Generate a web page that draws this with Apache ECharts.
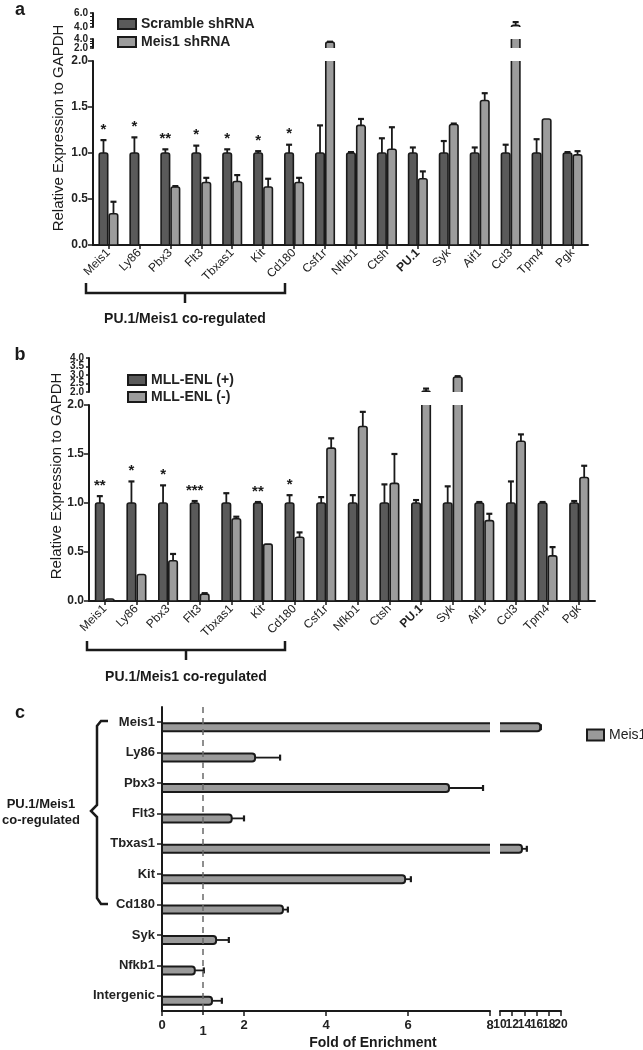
<!DOCTYPE html>
<html><head><meta charset="utf-8">
<script src="https://cdn.jsdelivr.net/npm/echarts@6/dist/echarts.min.js"></script>
<style>html,body{margin:0;padding:0;background:#fff}#c{width:643px;height:1050px}</style>
</head><body><div id="c"></div>
<script>
// ---------- data ----------
const genesAB = ['Meis1','Ly86','Pbx3','Flt3','Tbxas1','Kit','Cd180','Csf1r','Nfkb1','Ctsh','PU.1','Syk','Aif1','Ccl3','Tpm4','Pgk'];
// panel a
const aScramble    = [1,1,1,1,1,1,1,1,1,1,1,1,1,1,1,1];
const aScrambleErr = [0.14,0.17,0.04,0.08,0.04,0.02,0.09,0.30,0.01,0.16,0.06,0.13,0.06,0.09,0.15,0.01];
const aMeis1       = [0.34,0,0.63,0.68,0.69,0.63,0.68,3.3,1.30,1.04,0.72,1.31,1.57,4.25,1.37,0.98];
const aMeis1Err    = [0.13,0,0.01,0.05,0.07,0.09,0.05,0.1,0.07,0.24,0.08,0.01,0.08,0.45,0,0.04];
const aStars       = ['*','*','**','*','*','*','*','','','','','','','','',''];
// panel b
const bPlus        = [1,1,1,1,1,1,1,1,1,1,1,1,1,1,1,1];
const bPlusErr     = [0.07,0.22,0.18,0.02,0.10,0.01,0.08,0.06,0.08,0.19,0.03,0.17,0.01,0.22,0.01,0.02];
const bMinus       = [0.02,0.27,0.41,0.07,0.84,0.58,0.65,1.56,1.78,1.20,2.05,2.88,0.82,1.63,0.46,1.26];
const bMinusErr    = [0,0,0.07,0.01,0.02,0,0.05,0.10,0.15,0.30,0.15,0.05,0.07,0.07,0.09,0.12];
const bStars       = ['**','*','*','***','','**','*','','','','','','','','',''];
// panel c
const genesC = ['Meis1','Ly86','Pbx3','Flt3','Tbxas1','Kit','Cd180','Syk','Nfkb1','Intergenic'];
const cFold  = [16.6,2.27,7.0,1.70,13.6,5.93,2.95,1.32,0.80,1.22];
const cErr   = [0.1,0.61,0.83,0.30,0.8,0.14,0.12,0.31,0.22,0.24];
// tick labels of the broken-axis segments (split in two sets so none is dropped)
const aSeg1TicksA = [2], aSeg1TicksB = [4];
const bSegTicksA = [2, 3, 4], bSegTicksB = [2.5, 3.5];
const cSeg2TicksA = [10, 14, 18], cSeg2TicksB = [12, 16, 20];
const cExtraTick = [1];

// ---------- styles ----------
const FF = '"Liberation Sans", Arial, Helvetica, sans-serif';
const INK = '#1a1a1a';
const DARK = '#5a5a5a', LIGHT = '#9c9c9c', CFILL = '#9a9a9a';
const axLine = {show:true, lineStyle:{color:INK, width:2}};

function vRender(offset, fill, stars){
  return function(params, api){
    const cat = api.value(0), v = api.value(1), e = api.value(2);
    const base = api.coord([cat, 0]);
    const top = api.coord([cat, v]);
    const et = api.coord([cat, v + e]);
    const bw = 8.5;
    const cx = base[0] + offset;
    const ch = [];
    if (v > 0) ch.push({type:'rect', shape:{x:cx-bw/2, y:top[1], width:bw, height:base[1]-top[1], r:[2,2,0,0]},
      style:{fill:fill, stroke:INK, lineWidth:1.6}});
    if (e > 0.005) {
      ch.push({type:'line', shape:{x1:cx, y1:top[1], x2:cx, y2:et[1]}, style:{stroke:INK, lineWidth:1.8}});
      ch.push({type:'line', shape:{x1:cx-3, y1:et[1], x2:cx+3, y2:et[1]}, style:{stroke:INK, lineWidth:2.2}});
    }
    if (stars && stars[params.dataIndex]) {
      ch.push({type:'text', x:cx, y:et[1]-3, style:{text:stars[params.dataIndex], align:'center', verticalAlign:'bottom',
        font:'bold 15px ' + FF, fill:INK}});
    }
    return {type:'group', children:ch};
  };
}
function vSeries(name, grid, vals, errs, offset, fill, stars){
  return {type:'custom', name:name, xAxisIndex:grid, yAxisIndex:grid, clip:true,
    itemStyle:{color:fill}, encode:{x:0, y:1},
    data: vals.map((v,i)=>[i, v, errs[i]]), renderItem: vRender(offset, fill, stars)};
}
function hRender(params, api){
  const v = api.value(0), cat = api.value(1), e = api.value(2);
  const p0 = api.coord([0, cat]);
  const p1 = api.coord([v, cat]);
  const pe = api.coord([v + e, cat]);
  const y0 = p0[1];
  const ch = [{type:'rect', shape:{x:p0[0], y:y0+1, width:p1[0]-p0[0], height:8, r:[0,3,3,0]},
    style:{fill:CFILL, stroke:INK, lineWidth:2}}];
  if (e > 0.005) {
    ch.push({type:'line', shape:{x1:p1[0], y1:y0+5, x2:pe[0], y2:y0+5}, style:{stroke:INK, lineWidth:1.8}});
    ch.push({type:'line', shape:{x1:pe[0], y1:y0+2, x2:pe[0], y2:y0+8}, style:{stroke:INK, lineWidth:2.2}});
  }
  return {type:'group', children:ch};
}
function hSeries(grid, extra){
  return Object.assign({type:'custom', name:'Meis1', xAxisIndex:grid, yAxisIndex:grid, clip:true,
    itemStyle:{color:CFILL}, encode:{x:0, y:1},
    data: cFold.map((v,i)=>[v, i, cErr[i]]), renderItem: hRender}, extra || {});
}

const catLabel = {rotate:45, fontSize:12, color:'#222', margin:6, interval:0, fontFamily:FF,
  formatter: v => v === 'PU.1' ? '{b|' + v + '}' : v, rich:{b:{fontWeight:'bold', fontSize:12, fontFamily:FF, color:'#222'}}};
const mainYLabel = {formatter: v => v.toFixed(1), fontWeight:'bold', fontSize:12, color:'#222', margin:5, fontFamily:FF,
  showMinLabel:true, showMaxLabel:true};
function segYLabel(vals){
  const o = {formatter: v => v.toFixed(1), fontWeight:'bold', fontSize:10, color:'#222', margin:5, fontFamily:FF,
    showMinLabel:true, showMaxLabel:true};
  if (vals) o.customValues = vals;
  return o;
}

function catX(grid, shown){
  if (!shown) return {gridIndex:grid, type:'category', data:genesAB, show:false};
  return {gridIndex:grid, type:'category', data:genesAB, axisLine:axLine,
    axisTick:{show:true, alignWithLabel:true, length:4, lineStyle:{color:INK, width:1.5}}, axisLabel:catLabel};
}
function valY(grid, min, max, interval, main, minor, labelVals){
  return {gridIndex:grid, type:'value', min:min, max:max, interval:interval, position:'left', axisLine:axLine,
    axisTick:{show:true, length:main?5:3, lineStyle:{color:INK, width:1.5}},
    minorTick: minor ? {show:true, splitNumber:4, length:3, lineStyle:{color:INK, width:1}} : {show:false},
    axisLabel: main ? mainYLabel : segYLabel(labelVals), splitLine:{show:false}, minorSplitLine:{show:false}};
}
function labelOnlyY(grid, min, max, vals){
  return {gridIndex:grid, type:'value', min:min, max:max, position:'left', offset:0,
    axisLine:{show:false}, axisTick:{show:false}, axisLabel:segYLabel(vals), splitLine:{show:false}};
}
function cSeg2X(vals, showLine){
  return {gridIndex:6, type:'value', min:10, max:20, interval:2, position:'bottom', offset:0,
    axisLine: showLine ? axLine : {show:false},
    axisTick:{show:showLine, length:5, lineStyle:{color:INK, width:1.5}},
    axisLabel:{customValues:vals, fontWeight:'bold', fontSize:12, color:'#222', fontFamily:FF, margin:8},
    splitLine:{show:false}};
}

const legendCommon = {orient:'vertical', icon:'rect', selectedMode:false, itemWidth:18, itemHeight:10,
  itemStyle:{borderColor:INK, borderWidth:2},
  textStyle:{fontWeight:'bold', fontSize:14, color:'#222', fontFamily:FF, lineHeight:14}};

function poly(points, w){
  return {type:'polyline', shape:{points:points}, style:{fill:null, stroke:INK, lineWidth:w || 2.5}};
}
function txt(x, y, text, font, rot){
  const o = {type:'text', x:x, y:y, style:{text:text, align:'center', verticalAlign:'middle', font:font + ' ' + FF, fill:INK}};
  if (rot) o.rotation = rot;
  return o;
}

const option = {
  backgroundColor:'#ffffff',
  animation:false,
  grid:[
    {left:93, top:61, width:495, height:184},
    {left:93, top:39, width:495, height:9},
    {left:93, top:13, width:495, height:14},
    {left:89, top:405, width:506, height:196},
    {left:89, top:358, width:506, height:34},
    {left:162, top:707, width:328, height:304},
    {left:500, top:707, width:61, height:304}
  ],
  xAxis:[
    catX(0, true), catX(1, false), catX(2, false), catX(3, true), catX(4, false),
    {gridIndex:5, type:'value', min:0, max:8, interval:2, position:'bottom', axisLine:axLine,
      axisTick:{show:true, length:5, lineStyle:{color:INK, width:1.5}},
      axisLabel:{fontWeight:'bold', fontSize:13, color:'#222', fontFamily:FF, margin:8, showMinLabel:true, showMaxLabel:true},
      splitLine:{show:false}},
    cSeg2X(cSeg2TicksA, true),
    {gridIndex:5, type:'value', min:0, max:8, position:'bottom', offset:0, axisLine:{show:false},
      axisTick:{show:true, customValues:cExtraTick, length:4, lineStyle:{color:INK, width:1.5}},
      axisLabel:{customValues:cExtraTick, fontWeight:'bold', fontSize:13, color:'#222', fontFamily:FF, margin:14},
      splitLine:{show:false}},
    cSeg2X(cSeg2TicksB, false)
  ],
  yAxis:[
    valY(0, 0, 2, 0.5, true, false),
    valY(1, 2, 4, 2, false, true, aSeg1TicksA),
    valY(2, 4, 6, 2, false, true),
    valY(3, 0, 2, 0.5, true, false),
    valY(4, 2, 4, 0.5, false, false, bSegTicksA),
    {gridIndex:5, type:'category', data:genesC, inverse:true, axisLine:axLine,
      axisTick:{show:true, alignWithLabel:true, length:5, lineStyle:{color:INK, width:1.5}},
      axisLabel:{fontWeight:'bold', fontSize:13, color:'#222', fontFamily:FF, margin:7, interval:0}},
    {gridIndex:6, type:'category', data:genesC, inverse:true, show:false},
    labelOnlyY(1, 2, 4, aSeg1TicksB),
    labelOnlyY(4, 2, 4, bSegTicksB)
  ],
  legend:[
    Object.assign({}, legendCommon, {left:112, top:12, itemGap:4, data:['Scramble shRNA','Meis1 shRNA']}),
    Object.assign({}, legendCommon, {left:122, top:368, itemGap:3, data:['MLL-ENL (+)','MLL-ENL (-)']}),
    Object.assign({}, legendCommon, {left:581, top:723, itemGap:4, itemWidth:17, itemHeight:11,
      textStyle:{fontWeight:'normal', fontSize:14, color:'#222', fontFamily:FF}, data:['Meis1']})
  ],
  series:[
    vSeries('Scramble shRNA', 0, aScramble, aScrambleErr, -5, DARK, aStars),
    vSeries('Meis1 shRNA', 0, aMeis1, aMeis1Err, 5, LIGHT),
    vSeries('Scramble shRNA', 1, aScramble, aScrambleErr, -5, DARK),
    vSeries('Meis1 shRNA', 1, aMeis1, aMeis1Err, 5, LIGHT),
    vSeries('Scramble shRNA', 2, aScramble, aScrambleErr, -5, DARK),
    vSeries('Meis1 shRNA', 2, aMeis1, aMeis1Err, 5, LIGHT),
    vSeries('MLL-ENL (+)', 3, bPlus, bPlusErr, -5, DARK, bStars),
    vSeries('MLL-ENL (-)', 3, bMinus, bMinusErr, 5, LIGHT),
    vSeries('MLL-ENL (+)', 4, bPlus, bPlusErr, -5, DARK),
    vSeries('MLL-ENL (-)', 4, bMinus, bMinusErr, 5, LIGHT),
    hSeries(5, {markLine:{silent:true, symbol:['none','none'], label:{show:false},
      lineStyle:{type:[6,5], color:'#6a6a6a', width:1.5}, data:[{xAxis:1}]}}),
    hSeries(6)
  ],
  graphic:[
    txt(20, 10, 'a', 'bold 18px'),
    txt(20, 355, 'b', 'bold 18px'),
    txt(20, 713, 'c', 'bold 18px'),
    txt(59, 128, 'Relative Expression to GAPDH', '15px', Math.PI/2),
    txt(57, 476, 'Relative Expression to GAPDH', '15px', Math.PI/2),
    poly([[86,283],[86,293],[285,293],[285,283]]),
    poly([[185,293],[185,303]]),
    txt(185, 319, 'PU.1/Meis1 co-regulated', 'bold 14px'),
    poly([[87,641],[87,650],[285,650],[285,641]]),
    poly([[186,650],[186,660]]),
    txt(186, 677, 'PU.1/Meis1 co-regulated', 'bold 14px'),
    poly([[108,721],[101,721],[97,726],[97,805],[91,811],[97,817],[97,898],[101,904],[108,904]]),
    txt(41, 804, 'PU.1/Meis1', 'bold 13px'),
    txt(41, 820, 'co-regulated', 'bold 13px'),
    txt(373, 1043, 'Fold of Enrichment', 'bold 14px')
  ]
};
const chart = echarts.init(document.getElementById('c'));
chart.setOption(option);
</script></body></html>
